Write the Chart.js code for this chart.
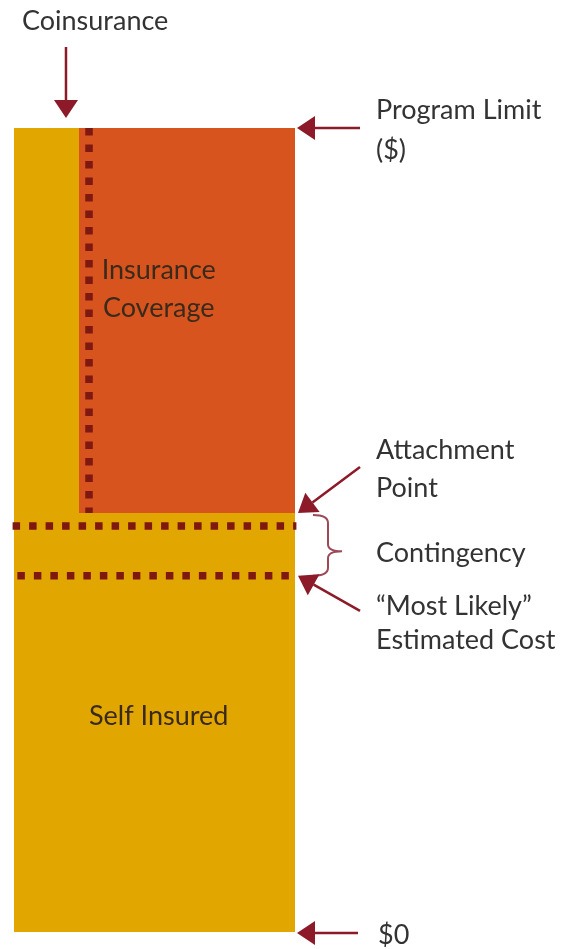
<!DOCTYPE html>
<html>
<head>
<meta charset="utf-8">
<script src="https://cdn.jsdelivr.net/npm/chart.js@4.4.1/dist/chart.umd.min.js"></script>
<style>
  html, body { margin: 0; padding: 0; background: #fff; }
</style>
</head>
<body>
<canvas id="myChart" width="561" height="949"></canvas>
<script>
// levels of the program, in % of the program limit (y axis)
const sideLabels = [['Program Limit', '($)'], ['Attachment', 'Point'], ['Contingency'], ['\u201CMost Likely\u201D', 'Estimated Cost'], ['$0']]
const sideValues = [100, 52.1, 47.35, 44.3, 0]
const dottedLevels = [50.5, 44.3]

// share of the layer kept by the insured (x axis, %)
const coinsuranceShare = 23.1
const coinsuranceLine = 26.7
const coinsuranceArrow = 18.5

const layerLabels = [['Insurance', 'Coverage'], ['Self Insured']]
const layerLabelValues = [80, 26.8]

const GOLD = '#E1A600'
const ORANGE = '#D8541F'
const DOTS = '#7e1810'
const ARROW = '#8c1a28'
const TEXT = '#333333'
const FONT = '27px Lato'

function arrow(c, x1, y1, x2, y2) {
    // line from (x1,y1) to tip (x2,y2)
    let ang = Math.atan2(y2 - y1, x2 - x1)
    let len = 18, half = 12
    let bx = x2 - Math.cos(ang) * len
    let by = y2 - Math.sin(ang) * len
    c.strokeStyle = ARROW
    c.fillStyle = ARROW
    c.lineWidth = 2.5
    c.beginPath()
    c.moveTo(x1, y1)
    c.lineTo(bx, by)
    c.stroke()
    c.beginPath()
    c.moveTo(x2, y2)
    c.lineTo(bx - Math.sin(ang) * half, by + Math.cos(ang) * half)
    c.lineTo(bx + Math.sin(ang) * half, by - Math.cos(ang) * half)
    c.closePath()
    c.fill()
}

const annotations = {
    id: 'annotations',
    afterDraw(chart) {
        const c = chart.ctx
        const x = chart.scales.x
        const y = chart.scales.y
        const right = chart.chartArea.right
        const tx = 376
        c.save()
        c.font = FONT
        c.textBaseline = 'middle'

        // labels inside the column
        c.fillStyle = '#3a2a1c'
        c.textAlign = 'center'
        let cx = x.getPixelForValue(51.5)
        layerLabels.forEach((lines, i) => {
            let cy = y.getPixelForValue(layerLabelValues[i])
            lines.forEach((t, j) => {
                c.fillText(t, cx, cy + (j - (lines.length - 1) / 2) * 38)
            })
        })

        c.fillStyle = TEXT
        c.textAlign = 'left'

        // coinsurance
        c.fillText('Coinsurance', 22, 21)
        let ax = x.getPixelForValue(coinsuranceArrow)
        arrow(c, ax, 47, ax, chart.chartArea.top - 10)

        // program limit
        let py = y.getPixelForValue(sideValues[0])
        arrow(c, right + 65, py, right + 2, py)
        c.fillStyle = TEXT
        c.fillText(sideLabels[0][0], tx, py - 18)
        c.fillText(sideLabels[0][1], tx, py + 22)

        // attachment point
        let ay = y.getPixelForValue(sideValues[1])
        arrow(c, right + 65, ay - 46, right + 3, ay)
        c.fillStyle = TEXT
        c.fillText(sideLabels[1][0], tx, ay - 63)
        c.fillText(sideLabels[1][1], tx, ay - 25)

        // contingency brace
        let b1 = y.getPixelForValue(dottedLevels[0]) - 11
        let b2 = y.getPixelForValue(dottedLevels[1])
        let bm = y.getPixelForValue(sideValues[2])
        c.strokeStyle = '#9c4a58'
        c.lineWidth = 2
        c.beginPath()
        c.moveTo(right + 18, b1)
        c.quadraticCurveTo(right + 33, b1, right + 33, b1 + 8)
        c.lineTo(right + 33, bm - 7)
        c.quadraticCurveTo(right + 33, bm, right + 47, bm)
        c.quadraticCurveTo(right + 33, bm, right + 33, bm + 7)
        c.lineTo(right + 33, b2 - 8)
        c.quadraticCurveTo(right + 33, b2, right + 18, b2)
        c.stroke()
        c.fillStyle = TEXT
        c.fillText(sideLabels[2][0], tx, bm + 2)

        // most likely estimated cost
        let my = y.getPixelForValue(sideValues[3])
        arrow(c, right + 65, my + 35, right + 3, my)
        c.fillStyle = TEXT
        c.fillText(sideLabels[3][0], tx, my + 30)
        c.fillText(sideLabels[3][1], tx, my + 64)

        // $0
        let zy = y.getPixelForValue(sideValues[4]) + 1
        arrow(c, right + 63, zy, right + 2, zy)
        c.fillStyle = TEXT
        c.fillText(sideLabels[4][0], tx + 2, zy + 2)

        c.restore()
    }
}

const dotted = {
    borderColor: DOTS,
    borderWidth: 7.5,
    borderDash: [7.5, 9],
    borderCapStyle: 'butt',
    pointRadius: 0,
    fill: false,
    clip: false,
    order: 0
}

const ctx = document.getElementById('myChart').getContext('2d')
const myChart = new Chart(ctx, {
    type: 'line',
    data: {
        datasets: [
            {
                ...dotted,
                label: 'Contingency',
                data: [{x: -0.5, y: dottedLevels[0]}, {x: 100.5, y: dottedLevels[0]}]
            },
            {
                ...dotted,
                label: 'Most Likely',
                data: [{x: 1.2, y: dottedLevels[1]}, {x: 100.5, y: dottedLevels[1]}]
            },
            {
                ...dotted,
                label: 'Coinsurance',
                data: [{x: coinsuranceLine, y: sideValues[0]}, {x: coinsuranceLine, y: sideValues[1]}]
            },
            {
                label: 'Insurance Coverage',
                data: [{x: coinsuranceShare, y: sideValues[0]}, {x: 100, y: sideValues[0]}],
                borderWidth: 0,
                borderColor: ORANGE,
                backgroundColor: ORANGE,
                pointRadius: 0,
                fill: {value: sideValues[1]},
                order: 1
            },
            {
                label: 'Self Insured',
                data: [{x: 0, y: sideValues[0]}, {x: 100, y: sideValues[0]}],
                borderWidth: 0,
                borderColor: GOLD,
                backgroundColor: GOLD,
                pointRadius: 0,
                fill: 'origin',
                order: 2
            }
        ]
    },
    options: {
        responsive: false,
        animation: false,
        layout: {
            padding: {left: 14, right: 266, top: 128, bottom: 17}
        },
        plugins: {
            legend: {display: false},
            tooltip: {enabled: false}
        },
        scales: {
            x: {type: 'linear', min: 0, max: 100, display: false},
            y: {min: 0, max: 100, display: false}
        }
    },
    plugins: [annotations]
})
</script>
</body>
</html>
